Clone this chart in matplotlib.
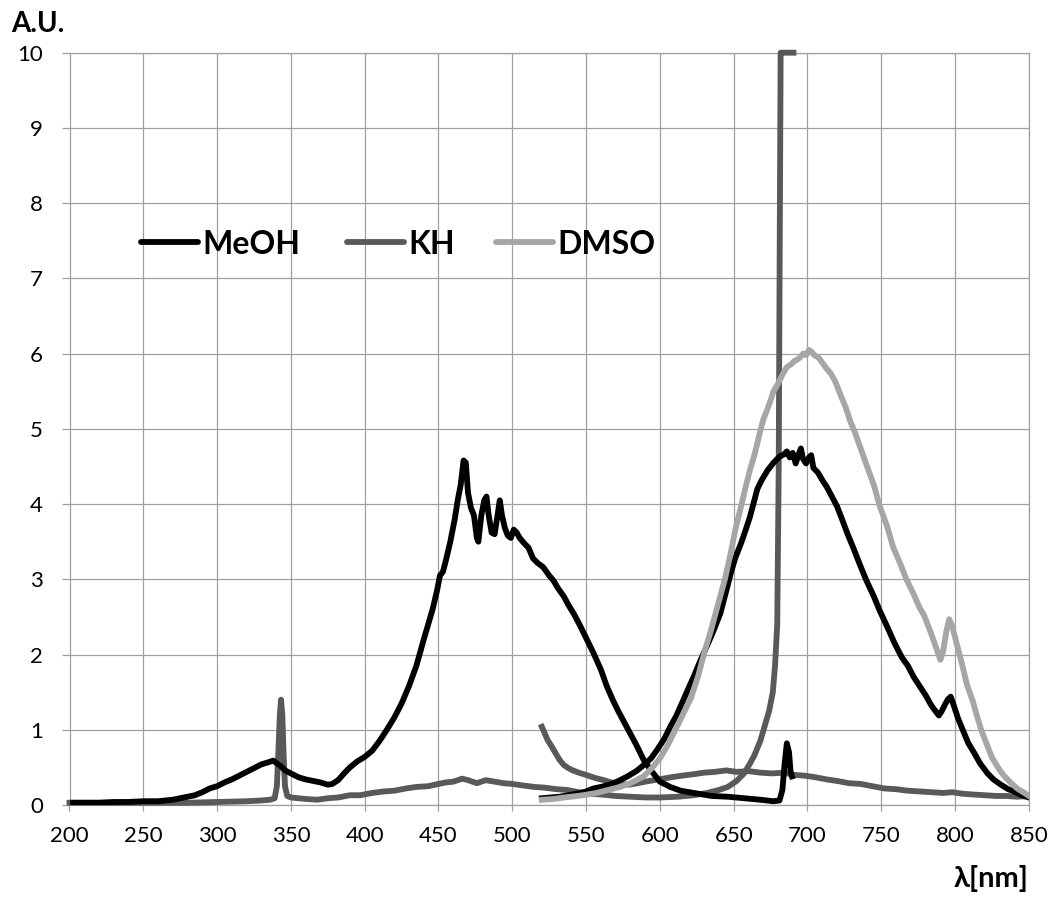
import numpy as np
import matplotlib
matplotlib.use("Agg")
import matplotlib.pyplot as plt
from matplotlib.lines import Line2D

plt.rcParams['font.family'] = ['Lato', 'DejaVu Sans']

# ---- MeOH excitation ----
meoh_ex_nm = [200, 210, 220, 230, 240, 250, 260, 265, 270, 275, 280, 285, 290, 295, 300,
              305, 310, 315, 320, 325, 330, 335, 338, 340, 343, 346, 350, 355, 360, 365,
              370, 375, 378, 382, 386, 390, 395, 400, 405, 410, 415, 420, 425, 430, 435,
              440, 443, 446, 449, 451, 453, 455, 458, 461, 463, 465, 467, 468.5, 470, 472,
              474, 476, 477, 479, 481, 482.5, 484, 486, 488, 490, 491.5, 493, 495, 497, 499,
              501, 503, 505, 508, 511, 514, 517, 521, 525, 528, 531, 535, 538, 542, 546,
              550, 555, 560, 564, 568, 572, 578, 584, 589, 594, 600, 607, 614, 623, 635,
              646, 657, 668, 677, 681, 683, 684.5, 686, 687.5, 688.5, 689.5]
meoh_ex_val = [0.03, 0.03, 0.03, 0.04, 0.04, 0.05, 0.05, 0.06, 0.07, 0.09, 0.11, 0.13, 0.17, 0.22, 0.25,
               0.30, 0.34, 0.39, 0.44, 0.49, 0.54, 0.57, 0.59, 0.56, 0.52, 0.46, 0.42, 0.37, 0.34, 0.32,
               0.30, 0.27, 0.28, 0.33, 0.42, 0.50, 0.58, 0.64, 0.72, 0.85, 1.00, 1.16, 1.35, 1.58, 1.85,
               2.20, 2.40, 2.60, 2.85, 3.05, 3.10, 3.25, 3.50, 3.80, 4.05, 4.25, 4.58, 4.55, 4.15, 3.95,
               3.85, 3.55, 3.50, 3.85, 4.05, 4.10, 3.85, 3.62, 3.60, 3.85, 4.05, 3.85, 3.68, 3.58, 3.55,
               3.66, 3.62, 3.55, 3.48, 3.42, 3.28, 3.22, 3.16, 3.05, 2.98, 2.88, 2.77, 2.66, 2.53, 2.38,
               2.22, 2.02, 1.80, 1.58, 1.40, 1.24, 1.02, 0.80, 0.60, 0.46, 0.31, 0.24, 0.19, 0.16, 0.12,
               0.11, 0.09, 0.07, 0.05, 0.06, 0.20, 0.55, 0.82, 0.70, 0.45, 0.38]

# ---- MeOH emission ----
meoh_em_nm = [520, 526, 532, 538, 546, 550, 555, 560, 566, 572, 578, 584, 589, 594, 598,
              603, 607, 611, 616, 620, 623, 627, 632, 636, 641, 645, 648, 651, 655, 658,
              661, 664, 666, 669, 673, 677, 681, 684, 686, 688, 690, 692, 694, 695.5, 697,
              699, 701, 702.5, 704, 707, 710, 713, 716, 720, 723, 727, 731, 736, 740, 745,
              749, 754, 759, 764, 768, 772, 776, 780, 784, 787, 789, 791, 793, 795, 797,
              799, 802, 806, 809, 813, 817, 822, 826, 831, 836, 840, 845, 850]
meoh_em_val = [0.09, 0.10, 0.11, 0.13, 0.16, 0.18, 0.22, 0.24, 0.27, 0.32, 0.38, 0.45, 0.53, 0.62, 0.73,
               0.88, 1.04, 1.18, 1.40, 1.58, 1.71, 1.90, 2.12, 2.30, 2.55, 2.85, 3.08, 3.28, 3.48, 3.65,
               3.83, 4.05, 4.20, 4.32, 4.45, 4.55, 4.63, 4.66, 4.70, 4.62, 4.68, 4.54, 4.66, 4.74, 4.60,
               4.54, 4.62, 4.65, 4.48, 4.42, 4.32, 4.23, 4.12, 3.97, 3.82, 3.61, 3.42, 3.17, 2.98, 2.77,
               2.58, 2.37, 2.15, 1.96, 1.85, 1.70, 1.58, 1.46, 1.32, 1.24, 1.19, 1.25, 1.33, 1.40, 1.44,
               1.33, 1.15, 0.96, 0.82, 0.69, 0.55, 0.42, 0.34, 0.27, 0.21, 0.18, 0.13, 0.10]

# ---- KH excitation ----
kh_ex_nm = [200, 220, 240, 260, 280, 300, 320, 330, 336, 339, 340.5, 341.5, 342.5, 343.3, 344.2,
            345, 346, 347.5, 350, 355, 360, 368, 375, 382, 390, 397, 405, 413, 420, 428,
            435, 443, 450, 455, 460, 466, 470, 476, 482, 488, 494, 500, 507, 515, 522,
            530, 537, 545, 552, 560, 570, 580, 590, 600, 612, 623, 632, 640, 646, 652,
            657, 661, 664, 668, 671, 674, 676.5, 678, 679.5, 680.5, 681.2, 681.8, 683, 690.5]
kh_ex_val = [0.03, 0.03, 0.03, 0.03, 0.03, 0.04, 0.05, 0.06, 0.07, 0.09, 0.25, 0.70, 1.20, 1.40, 1.20,
             0.70, 0.25, 0.12, 0.10, 0.09, 0.08, 0.07, 0.09, 0.10, 0.13, 0.13, 0.16, 0.18, 0.19, 0.22,
             0.24, 0.25, 0.28, 0.30, 0.31, 0.35, 0.33, 0.29, 0.33, 0.31, 0.29, 0.28, 0.26, 0.24, 0.23,
             0.21, 0.20, 0.17, 0.15, 0.14, 0.12, 0.11, 0.10, 0.10, 0.11, 0.13, 0.16, 0.20, 0.24, 0.32,
             0.42, 0.55, 0.66, 0.85, 1.05, 1.25, 1.50, 1.85, 2.40, 4.50, 7.50, 10.0, 10.0, 10.0]

# ---- KH emission ----
kh_em_nm = [520, 522, 524, 526, 529, 532, 535, 538, 541, 545, 550, 556, 562, 567, 573,
            579, 585, 590, 596, 602, 608, 615, 623, 630, 637, 645, 652, 660, 668, 676,
            684, 691, 698, 705, 713, 720, 728, 736, 744, 752, 760, 768, 776, 784, 792,
            798, 805, 812, 820, 828, 835, 842, 850]
kh_em_val = [1.04, 0.95, 0.86, 0.80, 0.70, 0.60, 0.53, 0.49, 0.46, 0.43, 0.40, 0.36, 0.33, 0.30, 0.28,
             0.27, 0.29, 0.31, 0.33, 0.35, 0.37, 0.39, 0.41, 0.43, 0.44, 0.46, 0.44, 0.45, 0.43, 0.42,
             0.43, 0.40, 0.39, 0.37, 0.34, 0.32, 0.29, 0.28, 0.25, 0.22, 0.21, 0.19, 0.18, 0.17, 0.16,
             0.17, 0.15, 0.14, 0.13, 0.12, 0.12, 0.11, 0.12]

# ---- DMSO emission ----
dmso_em_nm = [520, 528, 535, 540, 548, 557, 565, 573, 580, 589, 595, 600, 604, 607, 612,
              616, 621, 626, 630, 635, 639, 644, 648, 651, 655, 658, 661, 664, 666, 668,
              670, 673, 675, 677, 680, 683, 686, 689, 691, 693, 695, 697, 699, 701, 703,
              705, 707, 710, 713, 716, 719, 722, 726, 729, 732, 736, 740, 745, 749, 754,
              758, 763, 767, 772, 776, 779, 783, 787, 790, 792, 794, 796, 798, 801, 805,
              808, 812, 815, 818, 822, 825, 829, 833, 838, 842, 847, 850]
dmso_em_val = [0.07, 0.08, 0.10, 0.11, 0.13, 0.16, 0.20, 0.24, 0.29, 0.38, 0.50, 0.62, 0.75, 0.86, 1.06,
               1.22, 1.42, 1.72, 2.02, 2.35, 2.64, 3.00, 3.35, 3.65, 3.97, 4.22, 4.45, 4.65, 4.81, 4.97,
               5.12, 5.27, 5.38, 5.50, 5.60, 5.72, 5.82, 5.86, 5.90, 5.92, 5.95, 6.00, 5.98, 6.05, 6.02,
               5.97, 5.96, 5.88, 5.80, 5.73, 5.62, 5.47, 5.28, 5.10, 4.96, 4.74, 4.52, 4.25, 3.97, 3.70,
               3.43, 3.20, 3.00, 2.80, 2.62, 2.52, 2.32, 2.10, 1.93, 2.05, 2.30, 2.47, 2.38, 2.15, 1.85,
               1.60, 1.38, 1.17, 0.98, 0.78, 0.63, 0.50, 0.39, 0.29, 0.22, 0.16, 0.12]

series_names = ['MeOH', 'KH', 'DMSO']
series_colors = {'MeOH': '#000000', 'KH': '#595959', 'DMSO': '#a6a6a6'}

x_ticks = list(range(200, 851, 50))
y_ticks = list(range(0, 11))

fig = plt.figure(figsize=(10.5, 8.99), dpi=100)
ax = fig.add_axes([69.5 / 1050, 94 / 899, 959.4 / 1050, 752.3 / 899])

lw = 4.2
ax.plot(kh_ex_nm, kh_ex_val, color=series_colors['KH'], lw=lw, solid_joinstyle='round', zorder=3, clip_on=False)
ax.plot(kh_em_nm, kh_em_val, color=series_colors['KH'], lw=lw, solid_joinstyle='round', zorder=3)
ax.plot(meoh_ex_nm, meoh_ex_val, color=series_colors['MeOH'], lw=lw, solid_joinstyle='round', zorder=4)
ax.plot(meoh_em_nm, meoh_em_val, color=series_colors['MeOH'], lw=lw, solid_joinstyle='round', zorder=4)
ax.plot(dmso_em_nm, dmso_em_val, color=series_colors['DMSO'], lw=lw, solid_joinstyle='round', zorder=5)

ax.set_xlim(200, 850)
ax.set_ylim(0, 10)
ax.set_xticks(x_ticks)
ax.set_yticks(y_ticks)
ax.grid(True, color='#a0a0a0', lw=0.9, zorder=0)
ax.set_axisbelow(True)
for sp in ax.spines.values():
    sp.set_color('#a0a0a0')
    sp.set_linewidth(0.9)

ax.tick_params(axis='y', length=6, width=0.9, color='#a0a0a0', pad=13, labelsize=16)
ax.tick_params(axis='x', length=4, width=0.9, color='#a0a0a0', pad=11, labelsize=16)

fig.text(11 / 1050, 1 - 32 / 899, 'A.U.', fontsize=20, fontweight='bold', ha='left', va='baseline')
fig.text(1029 / 1050, 1 - 887 / 899, 'λ[nm]', fontsize=21, fontweight='bold',
         ha='right', va='baseline')

# legend row
leg_y = (805 - 241.6) / 752.3
leg_items = [(141, 198, 202), (347, 404, 408), (496, 553, 557)]
for name, (x0, x1, xt) in zip(series_names, leg_items):
    ax.add_line(Line2D([(x0 - 69.5) / 959.4, (x1 - 69.5) / 959.4], [leg_y, leg_y],
                       transform=ax.transAxes, color=series_colors[name], lw=lw,
                       solid_capstyle='round', clip_on=False, zorder=6))
    ax.text((xt - 69.5) / 959.4, leg_y, name, transform=ax.transAxes, fontsize=23,
            fontweight='bold', ha='left', va='center_baseline', zorder=6)

fig.savefig('out.png', dpi=100, facecolor='white')
